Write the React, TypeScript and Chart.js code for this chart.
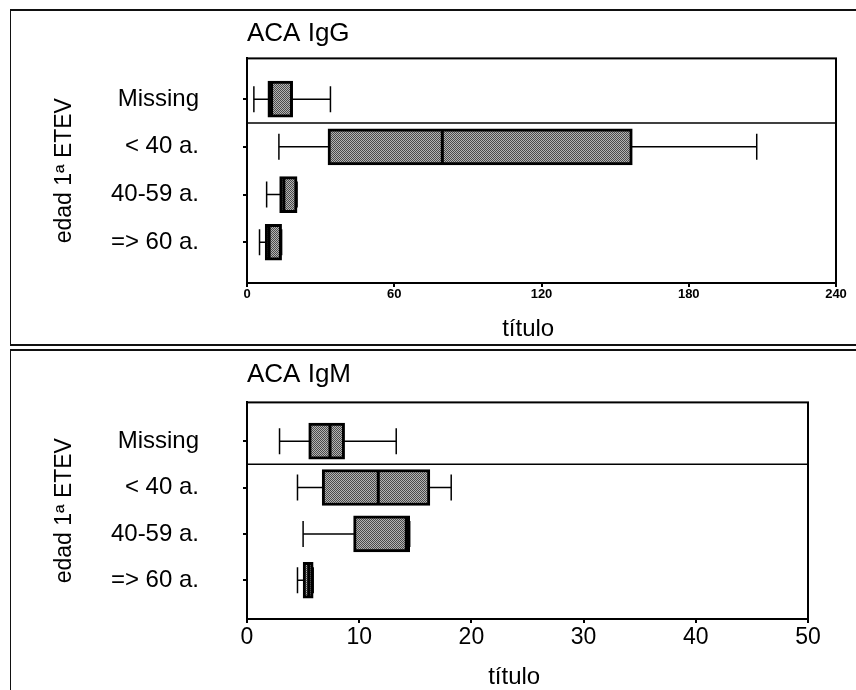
import React, { useEffect, useRef } from "react";
import { Chart, registerables } from "chart.js";

Chart.register(...registerables);

// ---------- data ----------
const categories = ["Missing", "< 40 a.", "40-59 a.", "=> 60 a."];

// ACA IgG
const iggLow = [2.8, 13, 8, 5.1];
const iggQ1 = [8.5, 33, 13.3, 7.4];
const iggMedian = [10, 79.6, 15, 9];
const iggQ3 = [18.6, 157, 20.4, 14.1];
const iggHigh = [34, 207.7, 20.4, 14.1];
const iggTicks = [0, 60, 120, 180, 240];

// ACA IgM
const igmLow = [2.9, 4.5, 5.0, 4.5];
const igmQ1 = [5.5, 6.7, 9.5, 5.0];
const igmMedian = [7.4, 11.7, 14.2, 5.5];
const igmQ3 = [8.7, 16.3, 14.5, 5.9];
const igmHigh = [13.3, 18.2, 14.5, 5.9];
const igmTicks = [0, 10, 20, 30, 40, 50];

const yTitle = "edad 1ª ETEV";
const xTitle = "título";

const FONT = 'Arial, "Liberation Sans", Helvetica, sans-serif';

const framePlugin = {
  id: "frame",
  afterDatasetsDraw(chart: any) {
    const { ctx, chartArea } = chart;
    ctx.save();
    ctx.strokeStyle = "#000";
    ctx.lineWidth = 2;
    ctx.strokeRect(
      chartArea.left,
      chartArea.top,
      chartArea.right - chartArea.left,
      chartArea.bottom - chartArea.top
    );
    ctx.restore();
  },
};

function makePattern(): any {
  const c = document.createElement("canvas");
  c.width = 2;
  c.height = 2;
  const g = c.getContext("2d")!;
  g.fillStyle = "#b4b4b4";
  g.fillRect(0, 0, 2, 2);
  g.fillStyle = "#4a4a4a";
  g.fillRect(0, 0, 1, 1);
  g.fillRect(1, 1, 1, 1);
  return g.createPattern(c, "repeat") || "#808080";
}

type PanelProps = {
  title: string;
  low: number[];
  q1: number[];
  median: number[];
  q3: number[];
  high: number[];
  ticks: number[];
  canvasTop: number;
  canvasHeight: number;
  padRight: number;
  titlePad: { top: number; bottom: number };
  xAxisHeight: number;
  yPad: number;
  tickFont: { size: number; weight: string };
  tickPadding: number;
};

function BoxPanel(p: PanelProps) {
  const ref = useRef<HTMLCanvasElement>(null);

  useEffect(() => {
    if (!ref.current) return;
    const idx = categories.map((_, i) => i);
    const xMax = p.ticks[p.ticks.length - 1];
    const pattern = makePattern();

    const datasets: any[] = [
      {
        type: "scatter",
        label: "median",
        data: idx.map((i) => ({ x: p.median[i], y: i })),
        pointStyle: "line",
        pointRotation: 90,
        pointRadius: 17,
        pointBorderWidth: 3,
        pointBorderColor: "#000",
        showLine: false,
        order: 0,
      },
      {
        type: "bar",
        label: "box",
        indexAxis: "y",
        data: idx.map((i) => ({ x: [p.q1[i], p.q3[i]], y: i })),
        backgroundColor: pattern,
        borderColor: "#000",
        borderWidth: 3,
        borderSkipped: false,
        barThickness: 36,
        order: 1,
      },
      ...idx.map((i) => ({
        type: "scatter",
        label: "whisker " + i,
        data: [
          { x: p.low[i], y: i },
          { x: p.high[i], y: i },
        ],
        showLine: true,
        borderColor: "#000",
        borderWidth: 1.5,
        pointRadius: 0,
        order: 2,
      })),
      {
        type: "scatter",
        label: "caps",
        data: idx.flatMap((i) => [
          { x: p.low[i], y: i },
          { x: p.high[i], y: i },
        ]),
        pointStyle: "line",
        pointRotation: 90,
        pointRadius: 13,
        pointBorderWidth: 1.5,
        pointBorderColor: "#000",
        showLine: false,
        order: 2,
      },
      {
        type: "scatter",
        label: "separator",
        data: [
          { x: 0, y: 0.5 },
          { x: xMax, y: 0.5 },
        ],
        showLine: true,
        borderColor: "#000",
        borderWidth: 1.5,
        pointRadius: 0,
        order: 2,
      },
    ];

    const chart = new Chart(ref.current, {
      type: "scatter",
      data: { datasets },
      plugins: [framePlugin],
      options: {
        animation: false,
        responsive: false,
        events: [],
        layout: { padding: { left: 47, right: p.padRight, top: 0, bottom: 0 } },
        plugins: {
          legend: { display: false },
          tooltip: { enabled: false },
          title: {
            display: true,
            text: p.title,
            align: "start",
            fullSize: false,
            color: "#000",
            font: { family: FONT, size: 26, weight: "normal" },
            padding: p.titlePad,
          },
        },
        scales: {
          x: {
            type: "linear",
            min: 0,
            max: xMax,
            offset: false,
            afterBuildTicks: (s: any) => {
              s.ticks = p.ticks.map((v) => ({ value: v }));
            },
            afterFit: (s: any) => {
              s.height = p.xAxisHeight;
            },
            ticks: {
              color: "#000",
              font: { family: FONT, size: p.tickFont.size, weight: p.tickFont.weight },
              padding: p.tickPadding,
              maxRotation: 0,
              callback: (v: any) => String(v),
            },
            grid: {
              offset: false,
              drawOnChartArea: false,
              drawTicks: true,
              tickLength: 4,
              color: "#000",
              lineWidth: 2,
            },
            border: { display: true, color: "#000", width: 2 },
            title: {
              display: true,
              text: xTitle + "    ",
              color: "#000",
              font: { family: FONT, size: 24, weight: "normal" },
              padding: { top: 4, bottom: 0 },
            },
          },
          y: {
            type: "linear",
            reverse: true,
            offset: false,
            min: -p.yPad,
            max: categories.length - 1 + p.yPad,
            afterBuildTicks: (s: any) => {
              s.ticks = categories.map((_, i) => ({ value: i }));
            },
            afterFit: (s: any) => {
              s.width = 200;
            },
            ticks: {
              color: "#000",
              font: { family: FONT, size: 24, weight: "normal" },
              padding: 44,
              callback: (v: any) => categories[v] ?? "",
            },
            grid: {
              offset: false,
              drawOnChartArea: false,
              drawTicks: true,
              tickLength: 4,
              color: "#000",
              lineWidth: 2,
            },
            border: { display: true, color: "#000", width: 2 },
            title: {
              display: true,
              text: yTitle,
              color: "#000",
              font: { family: FONT, size: 23, weight: "normal" },
              padding: { top: 4, bottom: 4 },
            },
          },
        },
      } as any,
    });
    return () => chart.destroy();
  }, []);

  return (
    <canvas
      ref={ref}
      width={856}
      height={p.canvasHeight}
      style={{
        position: "absolute",
        left: 0,
        top: p.canvasTop,
        width: 856,
        height: p.canvasHeight,
        zIndex: 2,
      }}
    />
  );
}

export default function App() {
  return (
    <div
      style={{
        position: "fixed",
        left: 0,
        top: 0,
        width: 856,
        height: 690,
        background: "#fff",
        overflow: "hidden",
      }}
    >
      <div
        style={{
          position: "absolute",
          left: 10,
          top: 9,
          width: 860,
          height: 333,
          borderTop: "2px solid #111",
          borderBottom: "2px solid #111",
          borderLeft: "1px solid #111",
          zIndex: 1,
        }}
      />
      <div
        style={{
          position: "absolute",
          left: 10,
          top: 349,
          width: 860,
          height: 360,
          borderTop: "2px solid #111",
          borderLeft: "1px solid #111",
          zIndex: 1,
        }}
      />
      <BoxPanel
        title="ACA IgG"
        low={iggLow}
        q1={iggQ1}
        median={iggMedian}
        q3={iggQ3}
        high={iggHigh}
        ticks={iggTicks}
        canvasTop={0}
        canvasHeight={344}
        padRight={15}
        titlePad={{ top: 17, bottom: 9 }}
        xAxisHeight={61}
        yPad={0.854}
        tickFont={{ size: 13, weight: "bold" }}
        tickPadding={0}
      />
      <BoxPanel
        title="ACA IgM"
        low={igmLow}
        q1={igmQ1}
        median={igmMedian}
        q3={igmQ3}
        high={igmHigh}
        ticks={igmTicks}
        canvasTop={344}
        canvasHeight={348}
        padRight={48}
        titlePad={{ top: 14, bottom: 12 }}
        xAxisHeight={73}
        yPad={0.835}
        tickFont={{ size: 23, weight: "normal" }}
        tickPadding={1}
      />
    </div>
  );
}
